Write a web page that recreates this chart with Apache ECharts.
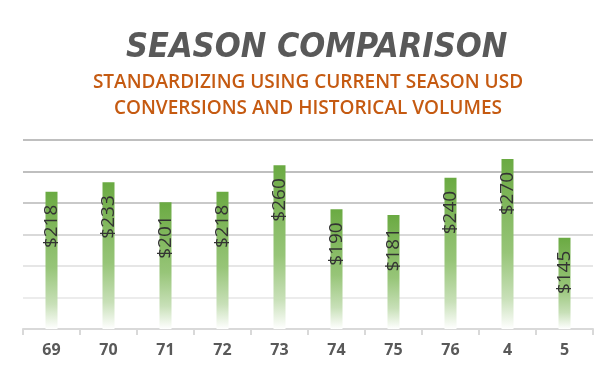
<!DOCTYPE html>
<html>
<head>
<meta charset="utf-8">
<script src="https://cdn.jsdelivr.net/npm/echarts@6/dist/echarts.min.js"></script>
<style>
html,body{margin:0;padding:0;background:#fff;}
#chart{width:616px;height:377px;}
</style>
</head>
<body>
<div id="chart"></div>
<script>
const categories = ['69','70','71','72','73','74','75','76','4','5'];
const values = [218, 233, 201, 218, 260, 190, 181, 240, 270, 145];
const titleText = 'SEASON COMPARISON';
const subtitleText = 'STANDARDIZING USING CURRENT SEASON USD\nCONVERSIONS AND HISTORICAL VOLUMES';

const chart = echarts.init(document.getElementById('chart'), null, {renderer:'canvas'});
chart.setOption({
  backgroundColor:'#ffffff',
  animation:false,
  title:[
    {text:titleText, left:121, top:26,
     textStyle:{fontFamily:'DejaVu Sans Condensed', fontStyle:'italic', fontWeight:'bold', fontSize:34, color:'#595959'}},
    {text:subtitleText, left:'center', top:65,
     textStyle:{fontFamily:'Open Sans', fontWeight:600, fontSize:19, lineHeight:26, color:'#c55a11'}}
  ],
  grid:{left:23, right:23, top:140, bottom:48},
  xAxis:{
    type:'category', data:categories,
    axisLine:{lineStyle:{color:'#d9d9d9', width:2}},
    axisTick:{show:true, length:6, lineStyle:{color:'#d9d9d9', width:2}},
    axisLabel:{color:'#595959', fontFamily:'Open Sans', fontWeight:'bold', fontSize:16, margin:13}
  },
  yAxis:{
    type:'value', min:0, max:300, interval:50,
    axisLabel:{show:false}, axisLine:{show:false}, axisTick:{show:false},
    splitLine:{lineStyle:{color:['#d9d9d9','#ececec','#e6e6e6','#d9d9d9','#c9c9c9','#bfbfbf','#bfbfbf'], width:2}}
  },
  series:[{
    type:'bar', data:values, barWidth:12,
    itemStyle:{color:new echarts.graphic.LinearGradient(0,0,0,1,[
      {offset:0, color:'#6aaa42'},
      {offset:0.08, color:'#72ae4b'},
      {offset:0.55, color:'#97c578'},
      {offset:0.82, color:'#c8e0b8'},
      {offset:1, color:'#ffffff'}
    ])},
    label:{show:true, position:'insideTop', distance:13, rotate:90, align:'right', verticalAlign:'middle',
      formatter:p=>'$'+p.value, color:'#333333', fontFamily:'Open Sans', fontWeight:500, fontSize:19}
  }]
});
</script>
</body>
</html>
